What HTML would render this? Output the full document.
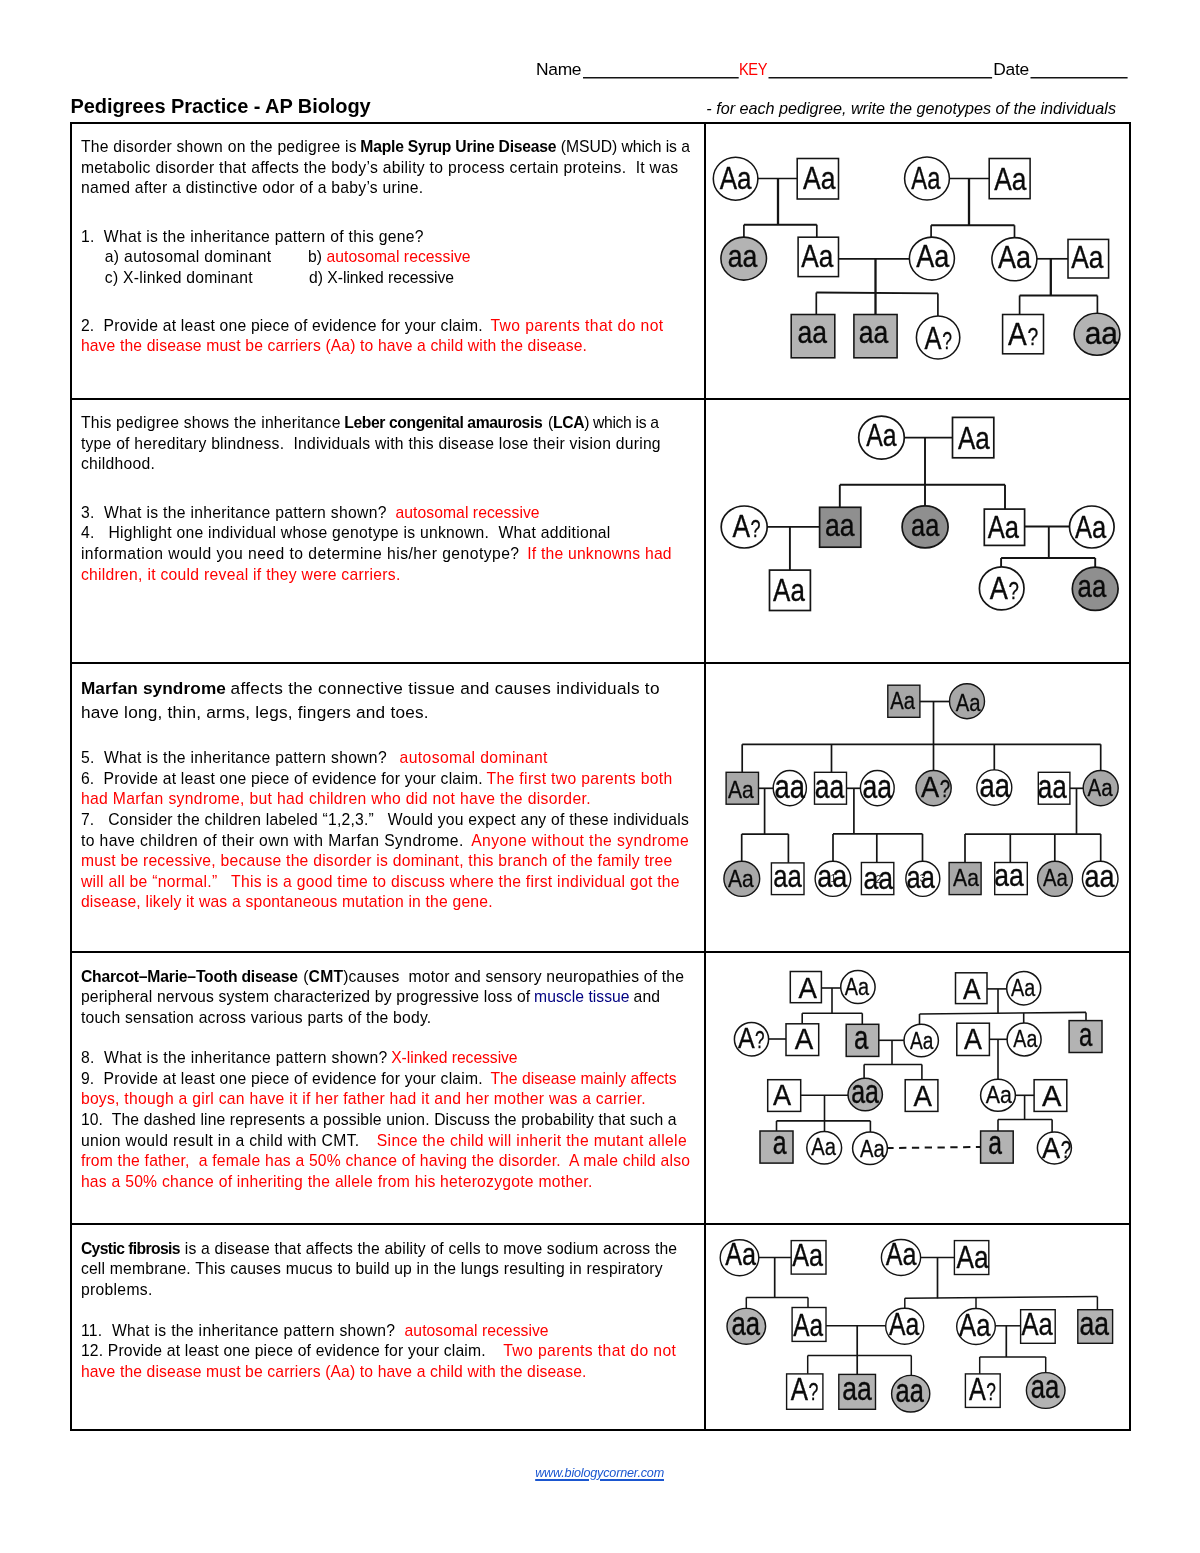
<!DOCTYPE html>
<html lang="en"><head><meta charset="utf-8"><title>Pedigrees Practice - AP Biology</title>
<style>
html,body{margin:0;padding:0;background:#fff;}
body{width:1200px;height:1553px;position:relative;overflow:hidden;font-family:"Liberation Sans",sans-serif;color:#000;}
.ln{position:absolute;white-space:pre;margin:0;}
.r{color:#ff0000;}
.n{color:#000080;}
.lk{color:#1a56d0;text-decoration:underline;text-decoration-thickness:1.6px;text-underline-offset:2.2px;}
.ul{display:inline-block;height:0;border-bottom:1.6px solid #000;vertical-align:-2.6px;}
.bx{position:absolute;background:#000;}
.key{transform:scaleX(0.84);transform-origin:0 0;}
svg{position:absolute;left:0;top:0;}
#page{position:absolute;left:0;top:0;width:1200px;height:1553px;will-change:transform;}
</style></head><body>
<div id="page">
<!-- table borders -->
<div class="bx" style="left:70px;top:122px;width:1061px;height:2px"></div>
<div class="bx" style="left:70px;top:1429px;width:1061px;height:2px"></div>
<div class="bx" style="left:70px;top:122px;width:2px;height:1309px"></div>
<div class="bx" style="left:1129px;top:122px;width:2px;height:1309px"></div>
<div class="bx" style="left:704px;top:122px;width:2px;height:1309px"></div>
<div class="bx" style="left:70px;top:398px;width:1061px;height:2px"></div>
<div class="bx" style="left:70px;top:662px;width:1061px;height:2px"></div>
<div class="bx" style="left:70px;top:951px;width:1061px;height:2px"></div>
<div class="bx" style="left:70px;top:1223px;width:1061px;height:2px"></div>
<div class="ln hdr" id="L0" style="left:536.1px;top:59.17px;font-size:17.4px;line-height:21px;letter-spacing:-0.330px;">Name</div>
<div class="ln key" id="L1" style="left:739.3px;top:59.17px;font-size:17.4px;line-height:21px;letter-spacing:-0.471px;"><span class="r">KEY</span></div>
<div class="ln hdr" id="L2" style="left:993.3px;top:59.17px;font-size:17.4px;line-height:21px;letter-spacing:-0.311px;">Date</div>
<div class="ln ttl" id="L3" style="left:70.5px;top:93.87px;font-size:20.0px;line-height:24px;letter-spacing:-0.071px;"><b>Pedigrees Practice - AP Biology</b></div>
<div class="ln sub" id="L4" style="left:706.3px;top:99.49px;font-size:16.2px;line-height:19px;letter-spacing:-0.011px;"><i>- for each pedigree, write the genotypes of the individuals</i></div>
<div class="ln " id="L5" style="left:80.9px;top:136.96px;font-size:15.7px;line-height:19px;letter-spacing:0.246px;">The disorder shown on the pedigree is</div>
<div class="ln " id="L6" style="left:360.3px;top:136.96px;font-size:15.7px;line-height:19px;letter-spacing:-0.213px;"><b>Maple Syrup Urine Disease</b></div>
<div class="ln " id="L7" style="left:560.8px;top:136.96px;font-size:15.7px;line-height:19px;letter-spacing:-0.048px;">(MSUD) which is a</div>
<div class="ln " id="L8" style="left:80.9px;top:157.56px;font-size:15.7px;line-height:19px;letter-spacing:0.300px;">metabolic disorder that affects the body’s ability to process certain proteins.  It was</div>
<div class="ln " id="L9" style="left:80.9px;top:178.06px;font-size:15.7px;line-height:19px;letter-spacing:0.270px;">named after a distinctive odor of a baby’s urine.</div>
<div class="ln " id="L10" style="left:80.9px;top:226.66px;font-size:15.7px;line-height:19px;letter-spacing:0.290px;">1.  What is the inheritance pattern of this gene?</div>
<div class="ln " id="L11" style="left:104.8px;top:247.06px;font-size:15.7px;line-height:19px;letter-spacing:0.340px;">a) autosomal dominant</div>
<div class="ln " id="L12" style="left:308.0px;top:247.06px;font-size:15.7px;line-height:19px;letter-spacing:0.061px;">b) <span class="r">autosomal recessive</span></div>
<div class="ln " id="L13" style="left:104.8px;top:267.66px;font-size:15.7px;line-height:19px;letter-spacing:0.253px;">c) X-linked dominant</div>
<div class="ln " id="L14" style="left:309.1px;top:267.66px;font-size:15.7px;line-height:19px;letter-spacing:-0.030px;">d) X-linked recessive</div>
<div class="ln " id="L15" style="left:80.9px;top:315.86px;font-size:15.7px;line-height:19px;letter-spacing:0.209px;">2.  Provide at least one piece of evidence for your claim.</div>
<div class="ln " id="L16" style="left:490.4px;top:315.86px;font-size:15.7px;line-height:19px;letter-spacing:0.402px;"><span class="r">Two parents that do not</span></div>
<div class="ln " id="L17" style="left:80.9px;top:336.46px;font-size:15.7px;line-height:19px;letter-spacing:0.139px;"><span class="r">have the disease must be carriers (Aa) to have a child with the disease.</span></div>
<div class="ln " id="L18" style="left:80.9px;top:413.36px;font-size:15.7px;line-height:19px;letter-spacing:0.245px;">This pedigree shows the inheritance</div>
<div class="ln " id="L19" style="left:344.3px;top:413.36px;font-size:15.7px;line-height:19px;letter-spacing:-0.402px;"><b>Leber congenital amaurosis</b></div>
<div class="ln " id="L20" style="left:548.0px;top:413.36px;font-size:15.7px;line-height:19px;letter-spacing:-0.337px;">(<b>LCA</b>) which is a</div>
<div class="ln " id="L21" style="left:80.9px;top:433.96px;font-size:15.7px;line-height:19px;letter-spacing:0.247px;">type of hereditary blindness.  Individuals with this disease lose their vision during</div>
<div class="ln " id="L22" style="left:80.9px;top:454.36px;font-size:15.7px;line-height:19px;letter-spacing:0.274px;">childhood.</div>
<div class="ln " id="L23" style="left:80.9px;top:502.86px;font-size:15.7px;line-height:19px;letter-spacing:0.305px;">3.  What is the inheritance pattern shown?</div>
<div class="ln " id="L24" style="left:395.5px;top:502.86px;font-size:15.7px;line-height:19px;letter-spacing:0.061px;"><span class="r">autosomal recessive</span></div>
<div class="ln " id="L25" style="left:80.9px;top:523.46px;font-size:15.7px;line-height:19px;letter-spacing:0.268px;">4.   Highlight one individual whose genotype is unknown.  What additional</div>
<div class="ln " id="L26" style="left:80.9px;top:544.06px;font-size:15.7px;line-height:19px;letter-spacing:0.459px;">information would you need to determine his/her genotype?</div>
<div class="ln " id="L27" style="left:527.2px;top:544.06px;font-size:15.7px;line-height:19px;letter-spacing:0.221px;"><span class="r">If the unknowns had</span></div>
<div class="ln " id="L28" style="left:80.9px;top:564.56px;font-size:15.7px;line-height:19px;letter-spacing:0.284px;"><span class="r">children, it could reveal if they were carriers.</span></div>
<div class="ln " id="L29" style="left:80.9px;top:678.14px;font-size:17.2px;line-height:21px;letter-spacing:0.124px;"><b>Marfan syndrome</b></div>
<div class="ln " id="L30" style="left:230.6px;top:678.14px;font-size:17.2px;line-height:21px;letter-spacing:0.305px;">affects the connective tissue and causes individuals to</div>
<div class="ln " id="L31" style="left:80.9px;top:701.94px;font-size:17.2px;line-height:21px;letter-spacing:0.232px;">have long, thin, arms, legs, fingers and toes.</div>
<div class="ln " id="L32" style="left:80.9px;top:747.96px;font-size:15.7px;line-height:19px;letter-spacing:0.310px;">5.  What is the inheritance pattern shown?</div>
<div class="ln " id="L33" style="left:399.6px;top:747.96px;font-size:15.7px;line-height:19px;letter-spacing:0.389px;"><span class="r">autosomal dominant</span></div>
<div class="ln " id="L34" style="left:80.9px;top:768.86px;font-size:15.7px;line-height:19px;letter-spacing:0.209px;">6.  Provide at least one piece of evidence for your claim.</div>
<div class="ln " id="L35" style="left:486.6px;top:768.86px;font-size:15.7px;line-height:19px;letter-spacing:0.347px;"><span class="r">The first two parents both</span></div>
<div class="ln " id="L36" style="left:80.9px;top:789.36px;font-size:15.7px;line-height:19px;letter-spacing:0.344px;"><span class="r">had Marfan syndrome, but had children who did not have the disorder.</span></div>
<div class="ln " id="L37" style="left:80.9px;top:809.96px;font-size:15.7px;line-height:19px;letter-spacing:0.227px;">7.   Consider the children labeled “1,2,3.”   Would you expect any of these individuals</div>
<div class="ln " id="L38" style="left:80.9px;top:830.56px;font-size:15.7px;line-height:19px;letter-spacing:0.412px;">to have children of their own with Marfan Syndrome.</div>
<div class="ln " id="L39" style="left:471.2px;top:830.56px;font-size:15.7px;line-height:19px;letter-spacing:0.420px;"><span class="r">Anyone without the syndrome</span></div>
<div class="ln " id="L40" style="left:80.9px;top:851.06px;font-size:15.7px;line-height:19px;letter-spacing:0.236px;"><span class="r">must be recessive, because the disorder is dominant, this branch of the family tree</span></div>
<div class="ln " id="L41" style="left:80.9px;top:871.66px;font-size:15.7px;line-height:19px;letter-spacing:0.277px;"><span class="r">will all be “normal.”   This is a good time to discuss where the first individual got the</span></div>
<div class="ln " id="L42" style="left:80.9px;top:892.26px;font-size:15.7px;line-height:19px;letter-spacing:0.200px;"><span class="r">disease, likely it was a spontaneous mutation in the gene.</span></div>
<div class="ln " id="L43" style="left:80.9px;top:966.56px;font-size:15.7px;line-height:19px;letter-spacing:-0.193px;"><b>Charcot–Marie–Tooth disease</b></div>
<div class="ln " id="L44" style="left:303.2px;top:966.56px;font-size:15.7px;line-height:19px;letter-spacing:0.190px;">(<b>CMT</b>)causes  motor and sensory neuropathies of the</div>
<div class="ln " id="L45" style="left:80.9px;top:986.96px;font-size:15.7px;line-height:19px;letter-spacing:0.176px;">peripheral nervous system characterized by progressive loss of</div>
<div class="ln " id="L46" style="left:534.1px;top:986.96px;font-size:15.7px;line-height:19px;letter-spacing:0.039px;"><span class="n">muscle tissue</span></div>
<div class="ln " id="L47" style="left:633.5px;top:986.96px;font-size:15.7px;line-height:19px;letter-spacing:0.156px;">and</div>
<div class="ln " id="L48" style="left:80.9px;top:1007.56px;font-size:15.7px;line-height:19px;letter-spacing:0.219px;">touch sensation across various parts of the body.</div>
<div class="ln " id="L49" style="left:80.9px;top:1048.36px;font-size:15.7px;line-height:19px;letter-spacing:0.327px;">8.  What is the inheritance pattern shown?</div>
<div class="ln " id="L50" style="left:391.2px;top:1048.36px;font-size:15.7px;line-height:19px;letter-spacing:-0.053px;"><span class="r">X-linked recessive</span></div>
<div class="ln " id="L51" style="left:80.9px;top:1068.96px;font-size:15.7px;line-height:19px;letter-spacing:0.209px;">9.  Provide at least one piece of evidence for your claim.</div>
<div class="ln " id="L52" style="left:490.4px;top:1068.96px;font-size:15.7px;line-height:19px;letter-spacing:0.030px;"><span class="r">The disease mainly affects</span></div>
<div class="ln " id="L53" style="left:80.9px;top:1089.36px;font-size:15.7px;line-height:19px;letter-spacing:0.265px;"><span class="r">boys, though a girl can have it if her father had it and her mother was a carrier.</span></div>
<div class="ln " id="L54" style="left:80.9px;top:1109.96px;font-size:15.7px;line-height:19px;letter-spacing:0.129px;">10.  The dashed line represents a possible union. Discuss the probability that such a</div>
<div class="ln " id="L55" style="left:80.9px;top:1130.56px;font-size:15.7px;line-height:19px;letter-spacing:0.325px;">union would result in a child with CMT.</div>
<div class="ln " id="L56" style="left:376.8px;top:1130.56px;font-size:15.7px;line-height:19px;letter-spacing:0.335px;"><span class="r">Since the child will inherit the mutant allele</span></div>
<div class="ln " id="L57" style="left:80.9px;top:1151.16px;font-size:15.7px;line-height:19px;letter-spacing:0.199px;"><span class="r">from the father,  a female has a 50% chance of having the disorder.  A male child also</span></div>
<div class="ln " id="L58" style="left:80.9px;top:1171.76px;font-size:15.7px;line-height:19px;letter-spacing:0.255px;"><span class="r">has a 50% chance of inheriting the allele from his heterozygote mother.</span></div>
<div class="ln " id="L59" style="left:80.9px;top:1238.66px;font-size:15.7px;line-height:19px;letter-spacing:-0.601px;"><b>Cystic fibrosis</b></div>
<div class="ln " id="L60" style="left:184.8px;top:1238.66px;font-size:15.7px;line-height:19px;letter-spacing:0.183px;">is a disease that affects the ability of cells to move sodium across the</div>
<div class="ln " id="L61" style="left:80.9px;top:1259.26px;font-size:15.7px;line-height:19px;letter-spacing:0.199px;">cell membrane. This causes mucus to build up in the lungs resulting in respiratory</div>
<div class="ln " id="L62" style="left:80.9px;top:1279.66px;font-size:15.7px;line-height:19px;letter-spacing:0.314px;">problems.</div>
<div class="ln " id="L63" style="left:80.9px;top:1320.86px;font-size:15.7px;line-height:19px;letter-spacing:0.325px;">11.  What is the inheritance pattern shown?</div>
<div class="ln " id="L64" style="left:404.6px;top:1320.86px;font-size:15.7px;line-height:19px;letter-spacing:0.056px;"><span class="r">autosomal recessive</span></div>
<div class="ln " id="L65" style="left:80.9px;top:1341.46px;font-size:15.7px;line-height:19px;letter-spacing:0.185px;">12. Provide at least one piece of evidence for your claim.</div>
<div class="ln " id="L66" style="left:503.2px;top:1341.46px;font-size:15.7px;line-height:19px;letter-spacing:0.402px;"><span class="r">Two parents that do not</span></div>
<div class="ln " id="L67" style="left:80.9px;top:1362.06px;font-size:15.7px;line-height:19px;letter-spacing:0.132px;"><span class="r">have the disease must be carriers (Aa) to have a child with the disease.</span></div>
<div class="ln ftr" id="L68" style="left:535.2px;top:1465.73px;font-size:12.6px;line-height:15px;letter-spacing:-0.177px;"><i class="lk">www.biologycorner.com</i></div>
<svg width="1200" height="1553" viewBox="0 0 1200 1553" font-family="Liberation Sans, sans-serif">
<g stroke="#141414" fill="none">
<line x1="583.0" y1="77.8" x2="738.7" y2="77.8" stroke-width="1.4"/>
<line x1="768.5" y1="77.8" x2="992.1" y2="77.8" stroke-width="1.4"/>
<line x1="1030.5" y1="77.8" x2="1127.6" y2="77.8" stroke-width="1.4"/>
<line x1="757.9" y1="178.5" x2="797.2" y2="178.5" stroke-width="1.7"/>
<line x1="778.0" y1="178.5" x2="778.0" y2="224.7" stroke-width="2.3"/>
<line x1="743.9" y1="224.7" x2="816.8" y2="224.7" stroke-width="1.9"/>
<line x1="743.9" y1="224.7" x2="743.9" y2="237.5" stroke-width="1.7"/>
<line x1="816.8" y1="224.7" x2="816.8" y2="237.2" stroke-width="1.7"/>
<line x1="838.5" y1="258.8" x2="909.4" y2="258.8" stroke-width="1.7"/>
<line x1="875.5" y1="258.8" x2="875.5" y2="314.5" stroke-width="2.3"/>
<line x1="816.3" y1="292.5" x2="937.9" y2="293.4" stroke-width="1.9"/>
<line x1="816.3" y1="292.5" x2="816.3" y2="314.5" stroke-width="1.7"/>
<line x1="937.9" y1="293.4" x2="937.9" y2="316.0" stroke-width="1.7"/>
<line x1="949.4" y1="178.5" x2="989.2" y2="178.5" stroke-width="1.7"/>
<line x1="969.0" y1="178.5" x2="969.0" y2="225.3" stroke-width="2.3"/>
<line x1="931.1" y1="225.3" x2="1014.5" y2="225.3" stroke-width="1.9"/>
<line x1="931.1" y1="225.3" x2="931.1" y2="237.5" stroke-width="1.7"/>
<line x1="1014.5" y1="225.3" x2="1014.5" y2="238.0" stroke-width="1.7"/>
<line x1="1036.9" y1="258.8" x2="1068.0" y2="258.8" stroke-width="1.7"/>
<line x1="1050.8" y1="258.8" x2="1050.8" y2="295.5" stroke-width="2.3"/>
<line x1="1019.6" y1="295.5" x2="1097.4" y2="295.5" stroke-width="1.9"/>
<line x1="1019.6" y1="295.5" x2="1019.6" y2="314.5" stroke-width="1.7"/>
<line x1="1097.4" y1="295.5" x2="1097.4" y2="313.5" stroke-width="1.7"/>
<ellipse cx="735.6" cy="178.7" rx="22.3" ry="21.5" fill="#fff" stroke-width="1.55"/>
<rect x="797.2" y="158.5" width="41.3" height="40.5" fill="#fff" stroke-width="1.55"/>
<ellipse cx="743.7" cy="258.6" rx="22.8" ry="21.5" fill="#b3b3b3" stroke-width="1.55"/>
<rect x="798.1" y="237.2" width="40.4" height="39.4" fill="#fff" stroke-width="1.55"/>
<rect x="791.2" y="314.5" width="43.6" height="43.3" fill="#b3b3b3" stroke-width="1.55"/>
<rect x="853.9" y="314.5" width="43.2" height="43.3" fill="#b3b3b3" stroke-width="1.55"/>
<ellipse cx="927.0" cy="178.5" rx="22.4" ry="21.5" fill="#fff" stroke-width="1.55"/>
<rect x="989.2" y="158.5" width="40.9" height="40.2" fill="#fff" stroke-width="1.55"/>
<ellipse cx="931.9" cy="258.6" rx="22.5" ry="21.5" fill="#fff" stroke-width="1.55"/>
<ellipse cx="1014.4" cy="259.2" rx="22.5" ry="21.6" fill="#fff" stroke-width="1.55"/>
<rect x="1068.0" y="239.4" width="40.6" height="38.6" fill="#fff" stroke-width="1.55"/>
<rect x="1002.6" y="314.5" width="40.9" height="39.3" fill="#fff" stroke-width="1.55"/>
<ellipse cx="1097.0" cy="334.3" rx="22.9" ry="21.0" fill="#b3b3b3" stroke-width="1.55"/>
<ellipse cx="938.1" cy="337.5" rx="21.7" ry="21.5" fill="#fff" stroke-width="1.55"/>
<line x1="904.3" y1="437.6" x2="952.5" y2="437.6" stroke-width="1.9"/>
<line x1="925.0" y1="437.6" x2="925.0" y2="506.0" stroke-width="1.9"/>
<line x1="839.8" y1="484.8" x2="1005.0" y2="484.8" stroke-width="1.9"/>
<line x1="839.8" y1="484.8" x2="839.8" y2="507.3" stroke-width="1.9"/>
<line x1="1005.0" y1="484.8" x2="1005.0" y2="509.1" stroke-width="1.9"/>
<line x1="767.3" y1="526.9" x2="819.6" y2="526.9" stroke-width="1.9"/>
<line x1="789.9" y1="526.9" x2="789.9" y2="570.1" stroke-width="1.9"/>
<line x1="1024.6" y1="526.5" x2="1069.5" y2="526.5" stroke-width="1.9"/>
<line x1="1048.8" y1="526.5" x2="1048.8" y2="558.0" stroke-width="1.9"/>
<line x1="1001.1" y1="558.0" x2="1095.2" y2="558.0" stroke-width="1.9"/>
<line x1="1001.1" y1="558.0" x2="1001.1" y2="567.0" stroke-width="1.9"/>
<line x1="1095.2" y1="558.0" x2="1095.2" y2="567.4" stroke-width="1.9"/>
<ellipse cx="881.5" cy="437.6" rx="22.8" ry="21.5" fill="#fff" stroke-width="1.7"/>
<ellipse cx="744.2" cy="527.0" rx="23.0" ry="21.0" fill="#fff" stroke-width="1.7"/>
<ellipse cx="925.1" cy="526.9" rx="23.0" ry="21.0" fill="#8f8f8f" stroke-width="1.7"/>
<ellipse cx="1091.8" cy="527.0" rx="22.3" ry="21.0" fill="#fff" stroke-width="1.7"/>
<ellipse cx="1001.7" cy="588.4" rx="22.3" ry="21.5" fill="#fff" stroke-width="1.7"/>
<ellipse cx="1095.2" cy="588.8" rx="22.9" ry="21.6" fill="#8f8f8f" stroke-width="1.7"/>
<rect x="819.6" y="507.3" width="41.2" height="39.9" fill="#8f8f8f" stroke-width="1.7"/>
<rect x="769.5" y="570.1" width="40.9" height="40.4" fill="#fff" stroke-width="1.7"/>
<rect x="952.5" y="417.4" width="41.3" height="40.4" fill="#fff" stroke-width="1.7"/>
<rect x="984.3" y="509.1" width="40.3" height="36.3" fill="#fff" stroke-width="1.7"/>
<line x1="919.9" y1="701.5" x2="949.4" y2="701.5" stroke-width="1.7"/>
<line x1="933.5" y1="701.5" x2="933.5" y2="770.8" stroke-width="1.7"/>
<line x1="742.2" y1="744.3" x2="1100.7" y2="744.3" stroke-width="1.7"/>
<line x1="742.2" y1="744.3" x2="742.2" y2="772.3" stroke-width="1.7"/>
<line x1="831.5" y1="744.3" x2="831.5" y2="772.3" stroke-width="1.7"/>
<line x1="994.3" y1="744.3" x2="994.3" y2="770.0" stroke-width="1.7"/>
<line x1="1100.7" y1="744.3" x2="1100.7" y2="770.8" stroke-width="1.7"/>
<line x1="758.5" y1="788.3" x2="773.2" y2="788.3" stroke-width="1.7"/>
<line x1="764.6" y1="788.3" x2="764.6" y2="834.1" stroke-width="1.7"/>
<line x1="846.5" y1="788.3" x2="860.5" y2="788.3" stroke-width="1.7"/>
<line x1="853.9" y1="788.3" x2="853.9" y2="833.9" stroke-width="1.7"/>
<line x1="741.7" y1="834.1" x2="788.4" y2="834.1" stroke-width="1.7"/>
<line x1="741.7" y1="834.1" x2="741.7" y2="861.6" stroke-width="1.7"/>
<line x1="788.4" y1="834.1" x2="788.4" y2="862.9" stroke-width="1.7"/>
<line x1="833.0" y1="833.9" x2="922.5" y2="833.9" stroke-width="1.7"/>
<line x1="833.0" y1="833.9" x2="833.0" y2="861.2" stroke-width="1.7"/>
<line x1="876.8" y1="833.9" x2="876.8" y2="862.5" stroke-width="1.7"/>
<line x1="922.5" y1="833.9" x2="922.5" y2="861.2" stroke-width="1.7"/>
<line x1="1069.9" y1="788.3" x2="1083.3" y2="788.3" stroke-width="1.7"/>
<line x1="1076.5" y1="788.3" x2="1076.5" y2="833.9" stroke-width="1.7"/>
<line x1="965.0" y1="834.1" x2="1100.7" y2="834.1" stroke-width="1.7"/>
<line x1="965.0" y1="834.1" x2="965.0" y2="862.5" stroke-width="1.7"/>
<line x1="1010.3" y1="834.1" x2="1010.3" y2="862.5" stroke-width="1.7"/>
<line x1="1054.8" y1="834.1" x2="1054.8" y2="861.4" stroke-width="1.7"/>
<line x1="1100.7" y1="834.1" x2="1100.7" y2="861.2" stroke-width="1.7"/>
<rect x="887.8" y="685.2" width="32.1" height="32.1" fill="#a8a8a8" stroke-width="1.4"/>
<ellipse cx="967.0" cy="701.2" rx="17.5" ry="17.5" fill="#a8a8a8" stroke-width="1.4"/>
<rect x="726.1" y="772.3" width="32.4" height="31.9" fill="#a8a8a8" stroke-width="1.4"/>
<ellipse cx="789.8" cy="788.1" rx="16.6" ry="17.6" fill="#fff" stroke-width="1.4"/>
<rect x="814.5" y="772.3" width="32.0" height="31.9" fill="#fff" stroke-width="1.4"/>
<ellipse cx="877.3" cy="788.1" rx="16.9" ry="17.6" fill="#fff" stroke-width="1.4"/>
<ellipse cx="933.6" cy="788.1" rx="17.6" ry="17.6" fill="#a8a8a8" stroke-width="1.4"/>
<ellipse cx="994.3" cy="787.6" rx="17.5" ry="17.7" fill="#fff" stroke-width="1.4"/>
<rect x="1038.3" y="772.3" width="31.6" height="31.9" fill="#fff" stroke-width="1.4"/>
<ellipse cx="1100.7" cy="788.1" rx="17.5" ry="17.6" fill="#a8a8a8" stroke-width="1.4"/>
<ellipse cx="741.8" cy="878.8" rx="17.9" ry="17.6" fill="#a8a8a8" stroke-width="1.4"/>
<rect x="771.4" y="862.9" width="32.6" height="31.7" fill="#fff" stroke-width="1.4"/>
<ellipse cx="832.9" cy="878.8" rx="17.8" ry="17.6" fill="#fff" stroke-width="1.4"/>
<rect x="861.4" y="862.5" width="32.4" height="32.1" fill="#fff" stroke-width="1.4"/>
<ellipse cx="922.8" cy="878.8" rx="17.0" ry="17.6" fill="#fff" stroke-width="1.4"/>
<rect x="949.1" y="862.5" width="32.0" height="32.1" fill="#a8a8a8" stroke-width="1.4"/>
<rect x="994.7" y="862.5" width="32.6" height="32.1" fill="#fff" stroke-width="1.4"/>
<ellipse cx="1055.0" cy="878.8" rx="17.4" ry="17.6" fill="#a8a8a8" stroke-width="1.4"/>
<ellipse cx="1100.2" cy="878.8" rx="17.8" ry="17.6" fill="#fff" stroke-width="1.4"/>
<line x1="821.4" y1="988.0" x2="840.7" y2="988.0" stroke-width="1.6"/>
<line x1="832.0" y1="988.0" x2="832.0" y2="1013.3" stroke-width="1.6"/>
<line x1="802.2" y1="1013.3" x2="862.3" y2="1013.3" stroke-width="1.6"/>
<line x1="802.2" y1="1013.3" x2="802.2" y2="1023.8" stroke-width="1.6"/>
<line x1="862.3" y1="1013.3" x2="862.3" y2="1024.3" stroke-width="1.6"/>
<line x1="768.6" y1="1039.0" x2="786.0" y2="1039.0" stroke-width="1.6"/>
<line x1="878.8" y1="1040.3" x2="903.9" y2="1040.3" stroke-width="1.6"/>
<line x1="892.0" y1="1040.3" x2="892.0" y2="1064.5" stroke-width="1.6"/>
<line x1="864.1" y1="1064.5" x2="921.9" y2="1064.5" stroke-width="1.6"/>
<line x1="864.1" y1="1064.5" x2="864.1" y2="1078.4" stroke-width="1.6"/>
<line x1="921.9" y1="1064.5" x2="921.9" y2="1079.7" stroke-width="1.6"/>
<line x1="800.7" y1="1095.3" x2="848.0" y2="1095.3" stroke-width="1.6"/>
<line x1="824.5" y1="1095.3" x2="824.5" y2="1120.9" stroke-width="1.6"/>
<line x1="776.5" y1="1120.9" x2="870.4" y2="1120.9" stroke-width="1.6"/>
<line x1="776.5" y1="1120.9" x2="776.5" y2="1131.0" stroke-width="1.6"/>
<line x1="824.5" y1="1120.9" x2="824.5" y2="1131.6" stroke-width="1.6"/>
<line x1="870.4" y1="1120.9" x2="870.4" y2="1132.0" stroke-width="1.6"/>
<line x1="887.6" y1="1148.0" x2="980.6" y2="1147.0" stroke-width="2.0" stroke-dasharray="7.3 5.5" stroke-dashoffset="1.3"/>
<line x1="987.0" y1="988.9" x2="1006.6" y2="988.9" stroke-width="1.6"/>
<line x1="998.0" y1="988.9" x2="998.0" y2="1013.4" stroke-width="1.6"/>
<line x1="919.5" y1="1014.0" x2="1086.0" y2="1012.4" stroke-width="1.6"/>
<line x1="919.5" y1="1014.0" x2="919.5" y2="1024.4" stroke-width="1.6"/>
<line x1="1023.7" y1="1013.0" x2="1023.7" y2="1023.2" stroke-width="1.6"/>
<line x1="1086.0" y1="1012.4" x2="1086.0" y2="1020.6" stroke-width="1.6"/>
<line x1="989.4" y1="1039.3" x2="1007.2" y2="1039.3" stroke-width="1.6"/>
<line x1="998.0" y1="1039.3" x2="998.0" y2="1079.5" stroke-width="1.6"/>
<line x1="1015.4" y1="1095.3" x2="1034.1" y2="1095.3" stroke-width="1.6"/>
<line x1="1024.6" y1="1095.3" x2="1024.6" y2="1119.5" stroke-width="1.6"/>
<line x1="998.0" y1="1119.5" x2="1052.1" y2="1119.5" stroke-width="1.6"/>
<line x1="998.0" y1="1119.5" x2="998.0" y2="1131.0" stroke-width="1.6"/>
<line x1="1052.1" y1="1119.5" x2="1052.1" y2="1132.2" stroke-width="1.6"/>
<rect x="790.3" y="971.5" width="31.1" height="31.2" fill="#fff" stroke-width="1.5"/>
<ellipse cx="857.9" cy="987.1" rx="17.2" ry="16.5" fill="#fff" stroke-width="1.5"/>
<ellipse cx="751.5" cy="1039.2" rx="17.1" ry="16.7" fill="#fff" stroke-width="1.5"/>
<rect x="786.0" y="1023.8" width="32.7" height="31.7" fill="#fff" stroke-width="1.5"/>
<rect x="846.2" y="1024.3" width="32.6" height="32.1" fill="#b3b3b3" stroke-width="1.5"/>
<ellipse cx="921.2" cy="1040.5" rx="17.2" ry="16.3" fill="#fff" stroke-width="1.5"/>
<rect x="955.5" y="972.8" width="31.5" height="30.8" fill="#fff" stroke-width="1.5"/>
<ellipse cx="1023.7" cy="988.2" rx="17.0" ry="16.7" fill="#fff" stroke-width="1.5"/>
<rect x="956.8" y="1023.2" width="32.6" height="32.3" fill="#fff" stroke-width="1.5"/>
<ellipse cx="1024.1" cy="1039.5" rx="17.0" ry="16.4" fill="#fff" stroke-width="1.5"/>
<rect x="1069.1" y="1020.6" width="32.9" height="31.9" fill="#b3b3b3" stroke-width="1.5"/>
<rect x="767.7" y="1079.7" width="33.0" height="31.7" fill="#fff" stroke-width="1.5"/>
<ellipse cx="865.2" cy="1094.5" rx="17.2" ry="16.3" fill="#b3b3b3" stroke-width="1.5"/>
<rect x="905.2" y="1079.7" width="32.7" height="31.7" fill="#fff" stroke-width="1.5"/>
<ellipse cx="998.0" cy="1095.3" rx="17.4" ry="16.0" fill="#fff" stroke-width="1.5"/>
<rect x="1034.1" y="1079.7" width="32.7" height="31.7" fill="#fff" stroke-width="1.5"/>
<rect x="760.0" y="1131.0" width="33.0" height="32.1" fill="#b3b3b3" stroke-width="1.5"/>
<ellipse cx="824.2" cy="1147.7" rx="17.4" ry="16.3" fill="#fff" stroke-width="1.5"/>
<ellipse cx="870.0" cy="1148.2" rx="17.4" ry="16.3" fill="#fff" stroke-width="1.5"/>
<rect x="980.6" y="1131.0" width="32.6" height="32.1" fill="#b3b3b3" stroke-width="1.5"/>
<ellipse cx="1054.4" cy="1148.0" rx="17.0" ry="16.0" fill="#fff" stroke-width="1.5"/>
<line x1="758.7" y1="1257.6" x2="791.2" y2="1257.6" stroke-width="1.5"/>
<line x1="774.7" y1="1257.6" x2="774.7" y2="1297.4" stroke-width="1.7"/>
<line x1="746.3" y1="1297.4" x2="808.0" y2="1297.4" stroke-width="1.5"/>
<line x1="746.3" y1="1297.4" x2="746.3" y2="1308.6" stroke-width="1.5"/>
<line x1="808.0" y1="1297.4" x2="808.0" y2="1307.5" stroke-width="1.5"/>
<line x1="826.0" y1="1325.8" x2="885.6" y2="1325.8" stroke-width="1.5"/>
<line x1="857.2" y1="1325.8" x2="857.2" y2="1374.4" stroke-width="1.7"/>
<line x1="807.7" y1="1355.5" x2="911.3" y2="1355.5" stroke-width="1.5"/>
<line x1="807.7" y1="1355.5" x2="807.7" y2="1373.9" stroke-width="1.5"/>
<line x1="911.3" y1="1355.5" x2="911.3" y2="1375.5" stroke-width="1.5"/>
<line x1="920.6" y1="1257.6" x2="954.4" y2="1257.6" stroke-width="1.5"/>
<line x1="937.5" y1="1257.6" x2="937.5" y2="1298.3" stroke-width="1.7"/>
<line x1="904.8" y1="1298.3" x2="1097.4" y2="1296.6" stroke-width="1.5"/>
<line x1="904.8" y1="1298.3" x2="904.8" y2="1308.6" stroke-width="1.5"/>
<line x1="976.0" y1="1297.8" x2="976.0" y2="1308.6" stroke-width="1.5"/>
<line x1="1097.4" y1="1296.6" x2="1097.4" y2="1309.7" stroke-width="1.5"/>
<line x1="995.3" y1="1325.8" x2="1020.6" y2="1325.8" stroke-width="1.5"/>
<line x1="1006.3" y1="1325.8" x2="1006.3" y2="1357.0" stroke-width="1.7"/>
<line x1="979.7" y1="1357.0" x2="1045.7" y2="1357.0" stroke-width="1.5"/>
<line x1="979.7" y1="1357.0" x2="979.7" y2="1373.9" stroke-width="1.5"/>
<line x1="1045.7" y1="1357.0" x2="1045.7" y2="1372.8" stroke-width="1.5"/>
<ellipse cx="739.5" cy="1257.7" rx="19.3" ry="18.0" fill="#fff" stroke-width="1.4"/>
<rect x="791.2" y="1240.6" width="34.8" height="33.5" fill="#fff" stroke-width="1.4"/>
<ellipse cx="746.3" cy="1326.3" rx="19.3" ry="17.9" fill="#b3b3b3" stroke-width="1.4"/>
<rect x="792.1" y="1307.5" width="33.9" height="33.9" fill="#fff" stroke-width="1.4"/>
<rect x="786.6" y="1373.9" width="36.3" height="35.4" fill="#fff" stroke-width="1.4"/>
<rect x="838.8" y="1374.4" width="36.7" height="34.9" fill="#b3b3b3" stroke-width="1.4"/>
<ellipse cx="910.7" cy="1393.7" rx="19.1" ry="18.3" fill="#b3b3b3" stroke-width="1.4"/>
<ellipse cx="901.0" cy="1257.5" rx="19.6" ry="18.0" fill="#fff" stroke-width="1.4"/>
<rect x="954.4" y="1240.6" width="34.4" height="33.9" fill="#fff" stroke-width="1.4"/>
<ellipse cx="904.7" cy="1326.3" rx="19.0" ry="18.0" fill="#fff" stroke-width="1.4"/>
<ellipse cx="976.0" cy="1326.5" rx="19.3" ry="18.0" fill="#fff" stroke-width="1.4"/>
<rect x="1020.6" y="1309.7" width="34.6" height="33.6" fill="#fff" stroke-width="1.4"/>
<rect x="1077.8" y="1309.7" width="34.8" height="33.6" fill="#b3b3b3" stroke-width="1.4"/>
<rect x="965.4" y="1373.9" width="34.8" height="33.5" fill="#fff" stroke-width="1.4"/>
<ellipse cx="1045.7" cy="1390.5" rx="19.3" ry="17.9" fill="#b3b3b3" stroke-width="1.4"/>
</g>
<g fill="#0a0a0a" stroke="#0a0a0a" stroke-linejoin="round">
<text x="922.6" y="882.4" font-size="10.5" fill="#222" stroke="none" text-anchor="middle">3</text>
<text x="878.3" y="883.0" font-size="10.5" fill="#222" stroke="none" text-anchor="middle">2</text>
<text x="833.3" y="882.4" font-size="10.5" fill="#222" stroke="none" text-anchor="middle">1</text>
<text transform="translate(719.7,188.7) scale(0.827,1)" font-size="31.5" stroke-width="0.38">Aa</text>
<text transform="translate(803.0,189.1) scale(0.842,1)" font-size="31.5" stroke-width="0.38">Aa</text>
<text transform="translate(727.7,267.4) scale(0.846,1)" font-size="31.5" stroke-width="0.38">aa</text>
<text transform="translate(801.2,266.5) scale(0.832,1)" font-size="31.5" stroke-width="0.38">Aa</text>
<text transform="translate(797.4,342.6) scale(0.843,1)" font-size="31.5" stroke-width="0.38">aa</text>
<text transform="translate(858.8,342.6) scale(0.843,1)" font-size="31.5" stroke-width="0.38">aa</text>
<text transform="translate(911.3,189.1) scale(0.754,1)" font-size="31.5" stroke-width="0.38">Aa</text>
<text transform="translate(994.2,190.4) scale(0.835,1)" font-size="31.5" stroke-width="0.38">Aa</text>
<text transform="translate(916.3,267.4) scale(0.858,1)" font-size="31.5" stroke-width="0.38">Aa</text>
<text transform="translate(997.9,268.3) scale(0.858,1)" font-size="31.5" stroke-width="0.38">Aa</text>
<text transform="translate(1071.2,268.0) scale(0.835,1)" font-size="31.5" stroke-width="0.38">Aa</text>
<text transform="translate(1008.0,345.3) scale(0.891,1)" font-size="31.5" stroke-width="0.38">A</text>
<text transform="translate(1027.4,345.3) scale(0.786,1)" font-size="24.6" stroke-width="0.29">?</text>
<text transform="translate(1084.7,344.4) scale(0.965,1)" font-size="31.0" stroke-width="0.37">aa</text>
<text transform="translate(924.6,349.0) scale(0.809,1)" font-size="31.5" stroke-width="0.38">A</text>
<text transform="translate(942.2,349.0) scale(0.713,1)" font-size="24.6" stroke-width="0.29">?</text>
<text transform="translate(866.3,445.5) scale(0.814,1)" font-size="30.5" stroke-width="0.37">Aa</text>
<text transform="translate(732.4,536.6) scale(0.850,1)" font-size="31.0" stroke-width="0.37">A</text>
<text transform="translate(750.6,536.6) scale(0.749,1)" font-size="24.2" stroke-width="0.29">?</text>
<text transform="translate(911.1,535.7) scale(0.804,1)" font-size="31.5" stroke-width="0.38">aa</text>
<text transform="translate(1074.9,537.9) scale(0.838,1)" font-size="30.5" stroke-width="0.37">Aa</text>
<text transform="translate(989.7,598.9) scale(0.877,1)" font-size="31.0" stroke-width="0.37">A</text>
<text transform="translate(1008.5,598.9) scale(0.774,1)" font-size="24.2" stroke-width="0.29">?</text>
<text transform="translate(1077.6,597.1) scale(0.816,1)" font-size="31.5" stroke-width="0.38">aa</text>
<text transform="translate(824.9,536.0) scale(0.843,1)" font-size="31.5" stroke-width="0.38">aa</text>
<text transform="translate(773.1,600.8) scale(0.851,1)" font-size="30.5" stroke-width="0.37">Aa</text>
<text transform="translate(957.9,448.6) scale(0.854,1)" font-size="30.5" stroke-width="0.37">Aa</text>
<text transform="translate(987.8,537.9) scale(0.838,1)" font-size="30.5" stroke-width="0.37">Aa</text>
<text transform="translate(890.2,709.4) scale(0.843,1)" font-size="24.0" stroke-width="0.29">Aa</text>
<text transform="translate(955.8,710.7) scale(0.846,1)" font-size="24.0" stroke-width="0.29">Aa</text>
<text transform="translate(727.9,798.3) scale(0.877,1)" font-size="24.0" stroke-width="0.29">Aa</text>
<text transform="translate(774.4,798.3) scale(0.843,1)" font-size="32.5" stroke-width="0.39">aa</text>
<text transform="translate(814.8,798.3) scale(0.817,1)" font-size="32.5" stroke-width="0.39">aa</text>
<text transform="translate(862.5,798.3) scale(0.817,1)" font-size="32.5" stroke-width="0.39">aa</text>
<text transform="translate(920.9,797.4) scale(0.907,1)" font-size="30.0" stroke-width="0.36">A</text>
<text transform="translate(939.7,797.4) scale(0.800,1)" font-size="23.4" stroke-width="0.28">?</text>
<text transform="translate(979.4,797.4) scale(0.843,1)" font-size="32.5" stroke-width="0.39">aa</text>
<text transform="translate(1037.8,798.3) scale(0.803,1)" font-size="32.5" stroke-width="0.39">aa</text>
<text transform="translate(1087.5,796.0) scale(0.894,1)" font-size="23.0" stroke-width="0.28">Aa</text>
<text transform="translate(727.9,887.3) scale(0.877,1)" font-size="24.0" stroke-width="0.29">Aa</text>
<text transform="translate(773.2,887.3) scale(0.804,1)" font-size="32.0" stroke-width="0.38">aa</text>
<text transform="translate(817.2,887.3) scale(0.842,1)" font-size="32.0" stroke-width="0.38">aa</text>
<text transform="translate(863.4,889.0) scale(0.830,1)" font-size="32.0" stroke-width="0.38">aa</text>
<text transform="translate(906.5,888.2) scale(0.795,1)" font-size="32.0" stroke-width="0.38">aa</text>
<text transform="translate(953.1,886.3) scale(0.877,1)" font-size="24.0" stroke-width="0.29">Aa</text>
<text transform="translate(994.2,886.3) scale(0.830,1)" font-size="32.0" stroke-width="0.38">aa</text>
<text transform="translate(1042.9,886.3) scale(0.846,1)" font-size="24.0" stroke-width="0.29">Aa</text>
<text transform="translate(1084.5,887.3) scale(0.842,1)" font-size="32.0" stroke-width="0.38">aa</text>
<text transform="translate(798.4,997.5) scale(0.920,1)" font-size="30.0" stroke-width="0.36">A</text>
<text transform="translate(844.7,994.9) scale(0.812,1)" font-size="24.5" stroke-width="0.29">Aa</text>
<text transform="translate(737.9,1047.6) scale(0.833,1)" font-size="30.0" stroke-width="0.36">A</text>
<text transform="translate(755.1,1047.6) scale(0.735,1)" font-size="23.4" stroke-width="0.28">?</text>
<text transform="translate(794.7,1048.5) scale(0.925,1)" font-size="30.0" stroke-width="0.36">A</text>
<text transform="translate(853.9,1049.4) scale(0.761,1)" font-size="33.8" stroke-width="0.41">a</text>
<text transform="translate(910.0,1049.0) scale(0.779,1)" font-size="24.5" stroke-width="0.29">Aa</text>
<text transform="translate(963.1,999.0) scale(0.875,1)" font-size="30.0" stroke-width="0.36">A</text>
<text transform="translate(1011.1,996.0) scale(0.809,1)" font-size="24.5" stroke-width="0.29">Aa</text>
<text transform="translate(964.0,1049.4) scale(0.895,1)" font-size="30.0" stroke-width="0.36">A</text>
<text transform="translate(1013.3,1047.0) scale(0.802,1)" font-size="24.5" stroke-width="0.29">Aa</text>
<text transform="translate(1079.0,1045.5) scale(0.726,1)" font-size="33.0" stroke-width="0.40">a</text>
<text transform="translate(773.1,1105.3) scale(0.905,1)" font-size="30.0" stroke-width="0.36">A</text>
<text transform="translate(851.2,1103.0) scale(0.734,1)" font-size="34.0" stroke-width="0.41">aa</text>
<text transform="translate(913.6,1106.3) scale(0.920,1)" font-size="30.0" stroke-width="0.36">A</text>
<text transform="translate(985.7,1103.3) scale(0.872,1)" font-size="24.5" stroke-width="0.29">Aa</text>
<text transform="translate(1041.9,1106.3) scale(0.970,1)" font-size="30.0" stroke-width="0.36">A</text>
<text transform="translate(772.7,1153.9) scale(0.737,1)" font-size="33.8" stroke-width="0.41">a</text>
<text transform="translate(811.3,1155.4) scale(0.826,1)" font-size="24.5" stroke-width="0.29">Aa</text>
<text transform="translate(860.0,1156.7) scale(0.826,1)" font-size="24.5" stroke-width="0.29">Aa</text>
<text transform="translate(988.2,1154.0) scale(0.749,1)" font-size="33.0" stroke-width="0.40">a</text>
<text transform="translate(1041.9,1158.1) scale(0.907,1)" font-size="30.0" stroke-width="0.36">A</text>
<text transform="translate(1060.7,1158.1) scale(0.800,1)" font-size="23.4" stroke-width="0.28">?</text>
<text transform="translate(725.2,1265.0) scale(0.827,1)" font-size="30.5" stroke-width="0.37">Aa</text>
<text transform="translate(792.2,1265.7) scale(0.824,1)" font-size="30.5" stroke-width="0.37">Aa</text>
<text transform="translate(731.4,1335.0) scale(0.791,1)" font-size="32.5" stroke-width="0.39">aa</text>
<text transform="translate(793.2,1335.9) scale(0.800,1)" font-size="30.5" stroke-width="0.37">Aa</text>
<text transform="translate(790.7,1400.0) scale(0.848,1)" font-size="30.5" stroke-width="0.37">A</text>
<text transform="translate(808.6,1400.0) scale(0.748,1)" font-size="23.8" stroke-width="0.29">?</text>
<text transform="translate(842.3,1400.0) scale(0.817,1)" font-size="32.5" stroke-width="0.39">aa</text>
<text transform="translate(895.5,1401.9) scale(0.783,1)" font-size="32.5" stroke-width="0.39">aa</text>
<text transform="translate(885.7,1265.0) scale(0.824,1)" font-size="30.5" stroke-width="0.37">Aa</text>
<text transform="translate(956.5,1267.5) scale(0.859,1)" font-size="30.5" stroke-width="0.37">Aa</text>
<text transform="translate(889.1,1335.0) scale(0.811,1)" font-size="30.5" stroke-width="0.37">Aa</text>
<text transform="translate(959.1,1335.9) scale(0.840,1)" font-size="30.5" stroke-width="0.37">Aa</text>
<text transform="translate(1021.4,1335.0) scale(0.840,1)" font-size="30.5" stroke-width="0.37">Aa</text>
<text transform="translate(1079.4,1335.0) scale(0.817,1)" font-size="32.5" stroke-width="0.39">aa</text>
<text transform="translate(968.9,1399.5) scale(0.826,1)" font-size="30.5" stroke-width="0.37">A</text>
<text transform="translate(986.3,1399.5) scale(0.729,1)" font-size="23.8" stroke-width="0.29">?</text>
<text transform="translate(1030.8,1398.3) scale(0.791,1)" font-size="32.5" stroke-width="0.39">aa</text>
</g>
</svg>
</div>
</body></html>
